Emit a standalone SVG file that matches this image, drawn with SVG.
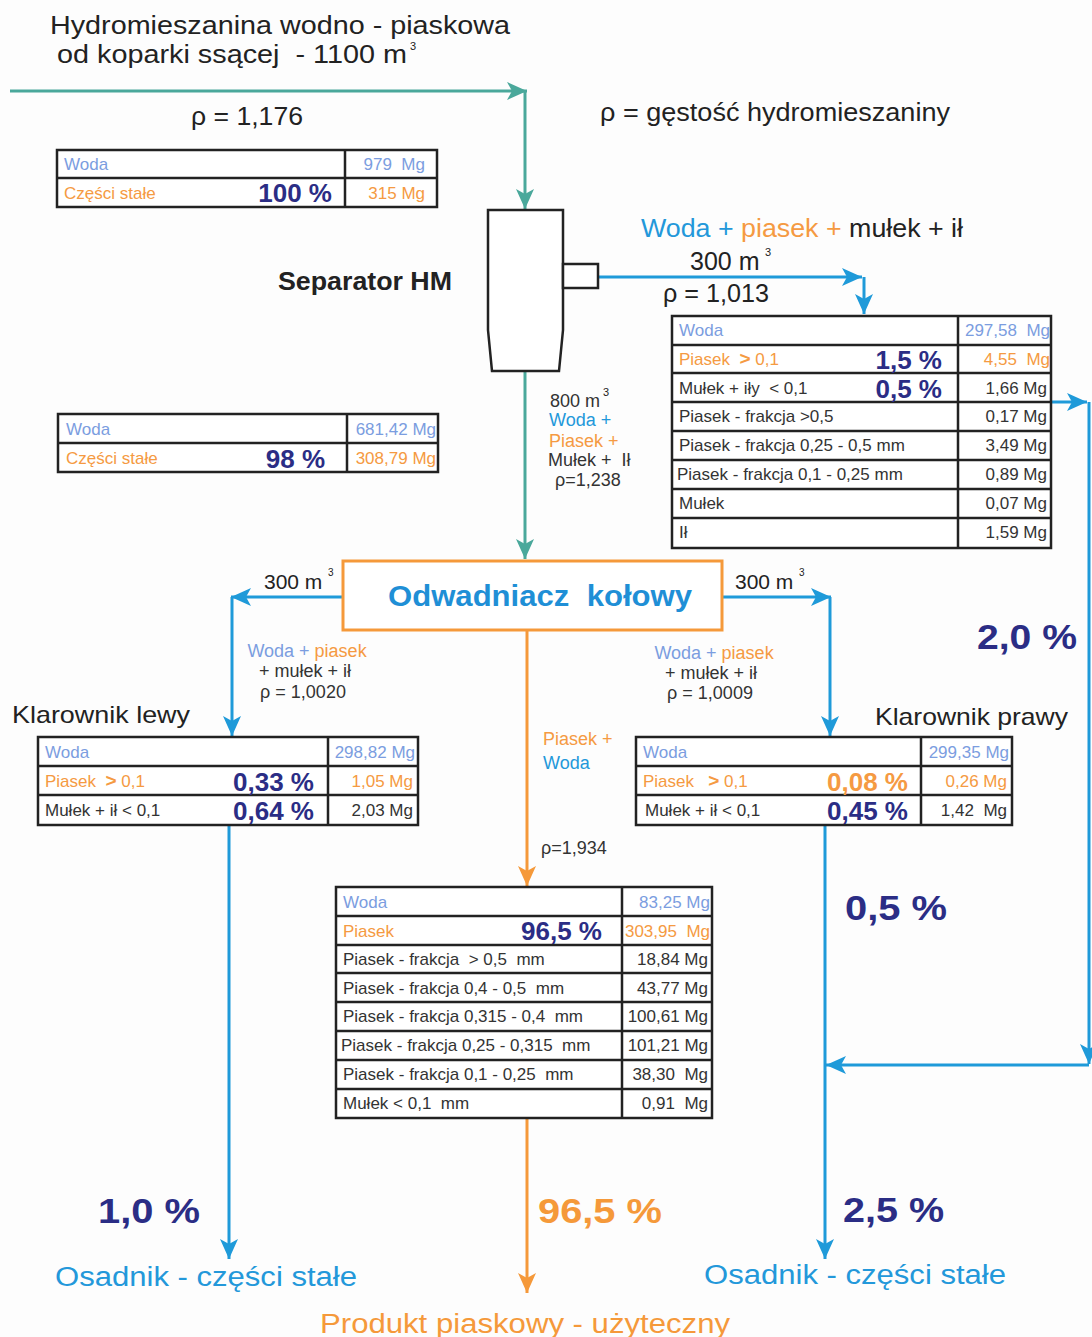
<svg xmlns="http://www.w3.org/2000/svg" width="1092" height="1337" viewBox="0 0 1092 1337" xml:space="preserve">
<style>
text{font-family:"Liberation Sans",Arial,sans-serif;white-space:pre;}
.t{font-size:17px;fill:#333;}
.s{font-size:18px;fill:#333;}
.lb{fill:#7b9de0;}
.or{fill:#f59a42;}
.bl{fill:#2398da;}
.nv{fill:#2b2d85;font-weight:bold;}
.pc{font-size:26px;}
.big{font-size:35px;}
.e{text-anchor:end;}
.m{text-anchor:middle;}
.tb{fill:#fff;stroke:#222;stroke-width:2.5;}
.ln{stroke:#222;stroke-width:2.5;fill:none;}
.ct{fill:none;stroke:#4aa89b;stroke-width:3;}
.cb{fill:none;stroke:#1f9ad9;stroke-width:3;}
.co{fill:none;stroke:#f5993a;stroke-width:3;}
.lab{font-size:25px;fill:#222;}
.sup{font-size:11px;fill:#222;}
</style>
<defs>
<marker id="aT" markerUnits="userSpaceOnUse" markerWidth="22" markerHeight="18" refX="20" refY="9" orient="auto"><path d="M0,0 L20,9 L0,18 L5,9 Z" fill="#4aa89b"/></marker>
<marker id="aB" markerUnits="userSpaceOnUse" markerWidth="22" markerHeight="18" refX="20" refY="9" orient="auto"><path d="M0,0 L20,9 L0,18 L5,9 Z" fill="#1f9ad9"/></marker>
<marker id="aO" markerUnits="userSpaceOnUse" markerWidth="22" markerHeight="18" refX="20" refY="9" orient="auto"><path d="M0,0 L20,9 L0,18 L5,9 Z" fill="#f5993a"/></marker>
</defs>
<rect width="1092" height="1337" fill="#fdfdfd"/>

<g id="connectors">
<path class="ct" d="M10,91 H527" marker-end="url(#aT)"/>
<path class="ct" d="M525,91 V209" marker-end="url(#aT)"/>
<path class="ct" d="M525,371 V559" marker-end="url(#aT)"/>
<path class="cb" d="M598,277 H862" marker-end="url(#aB)"/>
<path class="cb" d="M864,277 V314" marker-end="url(#aB)"/>
<path class="cb" d="M1051,402 H1087" marker-end="url(#aB)"/>
<path class="cb" d="M1089,402 V1064" marker-end="url(#aB)"/>
<path class="cb" d="M1089,1065 H826" marker-end="url(#aB)"/>
<path class="cb" d="M343,597 H231" marker-end="url(#aB)"/>
<path class="cb" d="M232,597 V736" marker-end="url(#aB)"/>
<path class="cb" d="M722,597 H831" marker-end="url(#aB)"/>
<path class="cb" d="M830,597 V736" marker-end="url(#aB)"/>
<path class="cb" d="M229,825 V1259" marker-end="url(#aB)"/>
<path class="cb" d="M825,825 V1259" marker-end="url(#aB)"/>
<path class="co" d="M527,630 V886" marker-end="url(#aO)"/>
<path class="co" d="M527,1118 V1293" marker-end="url(#aO)"/>
</g>

<g id="input">
<text x="50" y="34" class="lab" textLength="460" lengthAdjust="spacingAndGlyphs">Hydromieszanina wodno - piaskowa</text>
<text x="57" y="63" class="lab" textLength="350" lengthAdjust="spacingAndGlyphs">od koparki ssącej  - 1100 m</text>
<text x="410" y="50" class="sup">3</text>
<text x="191" y="125" class="lab" textLength="112" lengthAdjust="spacingAndGlyphs">ρ = 1,176</text>
</g>

<g id="legend">
<text x="600" y="121" class="lab" textLength="350" lengthAdjust="spacingAndGlyphs">ρ = gęstość hydromieszaniny</text>
</g>

<g id="table-input">
<rect class="tb" x="57" y="150" width="380" height="57"/>
<path class="ln" d="M57,178 H437 M345,150 V207"/>
<text x="64" y="170" class="t lb">Woda</text>
<text x="425" y="170" class="t lb e">979  Mg</text>
<text x="64" y="199" class="t or">Części stałe</text>
<text x="332" y="202" class="nv pc e">100 %</text>
<text x="425" y="199" class="t or e">315 Mg</text>
</g>

<g id="separator">
<path d="M488,210 H563 V330 L559,371 H492 L488,330 Z" fill="#fff" stroke="#222" stroke-width="2.5"/>
<rect x="563" y="264" width="35" height="24" fill="#fff" stroke="#222" stroke-width="2.5"/>
<text x="278" y="290" style="font-size:25px;font-weight:bold;fill:#222" textLength="174" lengthAdjust="spacingAndGlyphs">Separator HM</text>
</g>

<g id="label-separator-top">
<text x="641" y="237" style="font-size:25px" textLength="322" lengthAdjust="spacingAndGlyphs"><tspan class="bl">Woda + </tspan><tspan class="or">piasek + </tspan><tspan fill="#222">mułek + ił</tspan></text>
<text x="690" y="270" class="lab">300 m</text>
<text x="765" y="256" class="sup">3</text>
<text x="663" y="302" class="lab" textLength="106" lengthAdjust="spacingAndGlyphs">ρ = 1,013</text>
</g>

<g id="label-separator-bottom">
<text x="550" y="407" class="s">800 m</text>
<text x="603" y="396" class="sup">3</text>
<text x="549" y="426" class="s bl">Woda +</text>
<text x="549" y="447" class="s or">Piasek +</text>
<text x="548" y="466" class="s">Mułek +  Ił</text>
<text x="555" y="486" class="s">ρ=1,238</text>
</g>

<g id="table-separator-solids">
<rect class="tb" x="58" y="414" width="380" height="58"/>
<path class="ln" d="M58,443 H438 M347,414 V472"/>
<text x="66" y="435" class="t lb">Woda</text>
<text x="436" y="435" class="t lb e">681,42 Mg</text>
<text x="66" y="464" class="t or">Części stałe</text>
<text x="325" y="468" class="nv pc e">98 %</text>
<text x="436" y="464" class="t or e">308,79 Mg</text>
</g>

<g id="table-separator-overflow">
<rect class="tb" x="672" y="316" width="379" height="232"/>
<path class="ln" d="M672,345 H1051 M672,373 H1051 M672,402 H1051 M672,431 H1051 M672,460 H1051 M672,489 H1051 M672,518 H1051 M958,316 V548"/>
<text x="679" y="336" class="t lb">Woda</text>
<text x="1050" y="336" class="t lb e">297,58  Mg</text>
<text x="679" y="365" class="t or">Piasek  <tspan font-weight="bold" font-size="19">&gt;</tspan> 0,1</text>
<text x="942" y="369" class="nv pc e">1,5 %</text>
<text x="1050" y="365" class="t or e">4,55  Mg</text>
<text x="679" y="394" class="t">Mułek + iły  &lt; 0,1</text>
<text x="942" y="398" class="nv pc e">0,5 %</text>
<text x="1047" y="394" class="t e">1,66 Mg</text>
<text x="679" y="422" class="t">Piasek - frakcja &gt;0,5</text>
<text x="1047" y="422" class="t e">0,17 Mg</text>
<text x="679" y="451" class="t">Piasek - frakcja 0,25 - 0,5 mm</text>
<text x="1047" y="451" class="t e">3,49 Mg</text>
<text x="677" y="480" class="t">Piasek - frakcja 0,1 - 0,25 mm</text>
<text x="1047" y="480" class="t e">0,89 Mg</text>
<text x="679" y="509" class="t">Mułek</text>
<text x="1047" y="509" class="t e">0,07 Mg</text>
<text x="679" y="538" class="t">Ił</text>
<text x="1047" y="538" class="t e">1,59 Mg</text>
</g>

<g id="odwadniacz">
<rect x="343" y="561" width="379" height="69" fill="#fff" stroke="#f5993a" stroke-width="3"/>
<text x="388" y="606" style="font-size:29px;font-weight:bold;fill:#1f8fd6" textLength="304" lengthAdjust="spacingAndGlyphs">Odwadniacz  kołowy</text>
</g>

<g id="label-odw-left">
<text x="264" y="589" style="font-size:21px;fill:#222">300 m</text>
<text x="328" y="576" style="font-size:10px;fill:#222">3</text>
<text x="307" y="657" class="s m"><tspan class="lb">Woda + </tspan><tspan class="or">piasek</tspan></text>
<text x="305" y="677" class="s m">+ mułek + ił</text>
<text x="303" y="698" class="s m">ρ = 1,0020</text>
</g>

<g id="label-odw-right">
<text x="735" y="589" style="font-size:21px;fill:#222">300 m</text>
<text x="799" y="576" style="font-size:10px;fill:#222">3</text>
<text x="714" y="659" class="s m"><tspan class="lb">Woda + </tspan><tspan class="or">piasek</tspan></text>
<text x="711" y="679" class="s m">+ mułek + ił</text>
<text x="710" y="699" class="s m">ρ = 1,0009</text>
</g>

<g id="label-odw-center">
<text x="543" y="745" class="s or">Piasek +</text>
<text x="543" y="769" class="s bl">Woda</text>
<text x="541" y="854" class="s">ρ=1,934</text>
</g>

<g id="pct-overflow">
<text x="977" y="649" class="nv big" textLength="100" lengthAdjust="spacingAndGlyphs">2,0 %</text>
</g>

<g id="klarownik-lewy">
<text x="12" y="723" style="font-size:24px;fill:#222" textLength="178" lengthAdjust="spacingAndGlyphs">Klarownik lewy</text>
<rect class="tb" x="38" y="737" width="380" height="88"/>
<path class="ln" d="M38,766 H418 M38,795 H418 M328,737 V825"/>
<text x="45" y="758" class="t lb">Woda</text>
<text x="415" y="758" class="t lb e">298,82 Mg</text>
<text x="45" y="787" class="t or">Piasek  <tspan font-weight="bold" font-size="19">&gt;</tspan> 0,1</text>
<text x="314" y="791" class="nv pc e">0,33 %</text>
<text x="413" y="787" class="t or e">1,05 Mg</text>
<text x="45" y="816" class="t">Mułek + ił &lt; 0,1</text>
<text x="314" y="820" class="nv pc e">0,64 %</text>
<text x="413" y="816" class="t e">2,03 Mg</text>
</g>

<g id="klarownik-prawy">
<text x="875" y="725" style="font-size:24px;fill:#222" textLength="193" lengthAdjust="spacingAndGlyphs">Klarownik prawy</text>
<rect class="tb" x="636" y="737" width="376" height="88"/>
<path class="ln" d="M636,766 H1012 M636,795 H1012 M921,737 V825"/>
<text x="643" y="758" class="t lb">Woda</text>
<text x="1009" y="758" class="t lb e">299,35 Mg</text>
<text x="643" y="787" class="t or">Piasek   <tspan font-weight="bold" font-size="19">&gt;</tspan> 0,1</text>
<text x="908" y="791" class="pc e" style="fill:#f59a42;font-weight:bold">0,08 %</text>
<text x="1007" y="787" class="t or e">0,26 Mg</text>
<text x="645" y="816" class="t">Mułek + ił &lt; 0,1</text>
<text x="908" y="820" class="nv pc e">0,45 %</text>
<text x="1007" y="816" class="t e">1,42  Mg</text>
</g>

<g id="table-product">
<rect class="tb" x="336" y="887" width="376" height="231"/>
<path class="ln" d="M336,916 H712 M336,945 H712 M336,973 H712 M336,1002 H712 M336,1031 H712 M336,1060 H712 M336,1089 H712 M622,887 V1118"/>
<text x="343" y="908" class="t lb">Woda</text>
<text x="710" y="908" class="t lb e">83,25 Mg</text>
<text x="343" y="937" class="t or">Piasek</text>
<text x="602" y="940" class="nv pc e">96,5 %</text>
<text x="710" y="937" class="t or e">303,95  Mg</text>
<text x="343" y="965" class="t">Piasek - frakcja  &gt; 0,5  mm</text>
<text x="708" y="965" class="t e">18,84 Mg</text>
<text x="343" y="994" class="t">Piasek - frakcja 0,4 - 0,5  mm</text>
<text x="708" y="994" class="t e">43,77 Mg</text>
<text x="343" y="1022" class="t">Piasek - frakcja 0,315 - 0,4  mm</text>
<text x="708" y="1022" class="t e">100,61 Mg</text>
<text x="341" y="1051" class="t">Piasek - frakcja 0,25 - 0,315  mm</text>
<text x="708" y="1051" class="t e">101,21 Mg</text>
<text x="343" y="1080" class="t">Piasek - frakcja 0,1 - 0,25  mm</text>
<text x="708" y="1080" class="t e">38,30  Mg</text>
<text x="343" y="1109" class="t">Mułek &lt; 0,1  mm</text>
<text x="708" y="1109" class="t e">0,91  Mg</text>
</g>

<g id="pct-right">
<text x="845" y="920" class="nv big" textLength="102" lengthAdjust="spacingAndGlyphs">0,5 %</text>
</g>

<g id="osadnik-lewy">
<text x="98" y="1223" class="nv big" textLength="102" lengthAdjust="spacingAndGlyphs">1,0 %</text>
<text x="55" y="1286" style="font-size:27px;fill:#2398da" textLength="302" lengthAdjust="spacingAndGlyphs">Osadnik - części stałe</text>
</g>

<g id="produkt">
<text x="538" y="1223" class="big" style="fill:#f5993a;font-weight:bold" textLength="124" lengthAdjust="spacingAndGlyphs">96,5 %</text>
<text x="320" y="1333" style="font-size:27px;fill:#f5993a" textLength="410" lengthAdjust="spacingAndGlyphs">Produkt piaskowy - użyteczny</text>
</g>

<g id="osadnik-prawy">
<text x="843" y="1222" class="nv big" textLength="101" lengthAdjust="spacingAndGlyphs">2,5 %</text>
<text x="704" y="1284" style="font-size:27px;fill:#2398da" textLength="302" lengthAdjust="spacingAndGlyphs">Osadnik - części stałe</text>
</g>
</svg>
